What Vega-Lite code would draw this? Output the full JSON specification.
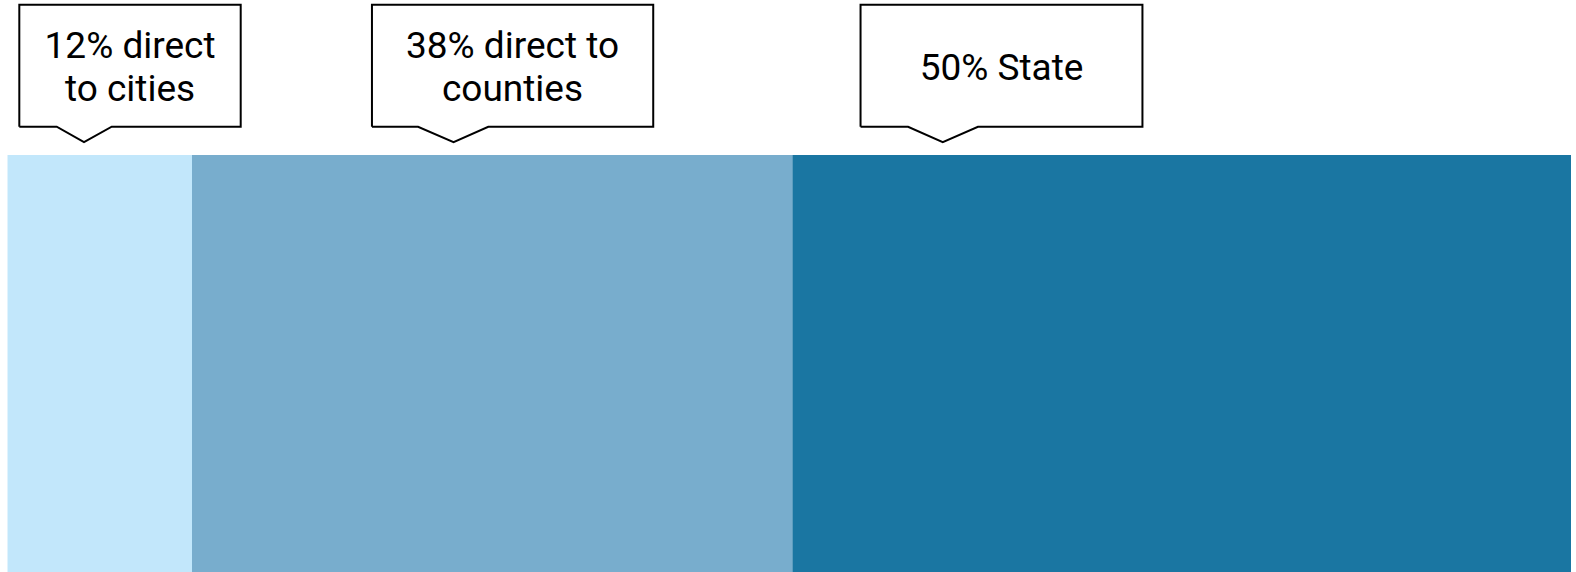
{
  "$schema": "https://vega.github.io/schema/vega-lite/v6.json",
  "autosize": {"type": "fit", "contains": "padding"},
  "width": 1576,
  "height": 572,
  "padding": 0,
  "background": "white",
  "config": {"view": {"stroke": null}},
  "datasets": {
    "segments": [
      {"segment": "Direct to cities", "order": 1, "share": 11.8, "label": ["12% direct", "to cities"], "label_x": 7.84},
      {"segment": "Direct to counties", "order": 2, "share": 38.4, "label": ["38% direct to", "counties"], "label_x": 32.3},
      {"segment": "State", "order": 3, "share": 49.8, "label": ["50% State"], "label_x": 63.58}
    ],
    "callouts": [
      {"c": 1, "i": 1, "x": 0.755, "y": 101.2},
      {"c": 1, "i": 2, "x": 0.755, "y": 128.9},
      {"c": 1, "i": 3, "x": 14.915, "y": 128.9},
      {"c": 1, "i": 4, "x": 14.915, "y": 101.2},
      {"c": 1, "i": 5, "x": 6.665, "y": 101.2},
      {"c": 1, "i": 6, "x": 4.893, "y": 97.7},
      {"c": 1, "i": 7, "x": 3.147, "y": 101.2},
      {"c": 1, "i": 8, "x": 0.755, "y": 101.2},
      {"c": 2, "i": 1, "x": 23.31, "y": 101.2},
      {"c": 2, "i": 2, "x": 23.31, "y": 128.9},
      {"c": 2, "i": 3, "x": 41.3, "y": 128.9},
      {"c": 2, "i": 4, "x": 41.3, "y": 101.2},
      {"c": 2, "i": 5, "x": 30.75, "y": 101.2},
      {"c": 2, "i": 6, "x": 28.53, "y": 97.7},
      {"c": 2, "i": 7, "x": 26.26, "y": 101.2},
      {"c": 2, "i": 8, "x": 23.31, "y": 101.2},
      {"c": 3, "i": 1, "x": 54.56, "y": 101.2},
      {"c": 3, "i": 2, "x": 54.56, "y": 128.9},
      {"c": 3, "i": 3, "x": 72.59, "y": 128.9},
      {"c": 3, "i": 4, "x": 72.59, "y": 101.2},
      {"c": 3, "i": 5, "x": 62.07, "y": 101.2},
      {"c": 3, "i": 6, "x": 59.82, "y": 97.7},
      {"c": 3, "i": 7, "x": 57.6, "y": 101.2},
      {"c": 3, "i": 8, "x": 54.56, "y": 101.2}
    ]
  },
  "layer": [
    {
      "data": {"name": "segments"},
      "transform": [
        {"stack": "share", "groupby": [], "sort": [{"field": "order"}], "as": ["x0", "x1"]}
      ],
      "mark": {"type": "rect"},
      "encoding": {
        "x": {"field": "x0", "type": "quantitative", "axis": null, "scale": {"domain": [-0.48, 100.32], "nice": false, "zero": false}},
        "x2": {"field": "x1"},
        "y": {"datum": 0, "type": "quantitative", "axis": null, "scale": {"domain": [0, 130], "nice": false, "zero": false}},
        "y2": {"datum": 94.8},
        "color": {
          "field": "segment", "type": "nominal", "legend": null,
          "scale": {"domain": ["Direct to cities", "Direct to counties", "State"], "range": ["#c2e7fb", "#78adcd", "#1a76a2"]}
        }
      }
    },
    {
      "data": {"name": "callouts"},
      "mark": {"type": "line", "color": "black", "strokeWidth": 2, "strokeJoin": "miter"},
      "encoding": {
        "x": {"field": "x", "type": "quantitative"},
        "y": {"field": "y", "type": "quantitative"},
        "detail": {"field": "c", "type": "nominal"},
        "order": {"field": "i", "type": "quantitative"}
      }
    },
    {
      "data": {"name": "segments"},
      "transform": [{"filter": "length(datum.label) == 1"}],
      "mark": {"type": "text", "font": "Roboto", "fontSize": 37, "lineHeight": 43, "color": "black", "align": "center", "baseline": "middle"},
      "encoding": {
        "x": {"field": "label_x", "type": "quantitative"},
        "y": {"datum": 114.4, "type": "quantitative"},
        "text": {"field": "label"}
      }
    },
    {
      "data": {"name": "segments"},
      "transform": [{"filter": "length(datum.label) > 1"}],
      "mark": {"type": "text", "font": "Roboto", "fontSize": 37, "lineHeight": 43, "color": "black", "align": "center", "baseline": "middle", "dy": -21.5},
      "encoding": {
        "x": {"field": "label_x", "type": "quantitative"},
        "y": {"datum": 114.4, "type": "quantitative"},
        "text": {"field": "label"}
      }
    }
  ]
}
